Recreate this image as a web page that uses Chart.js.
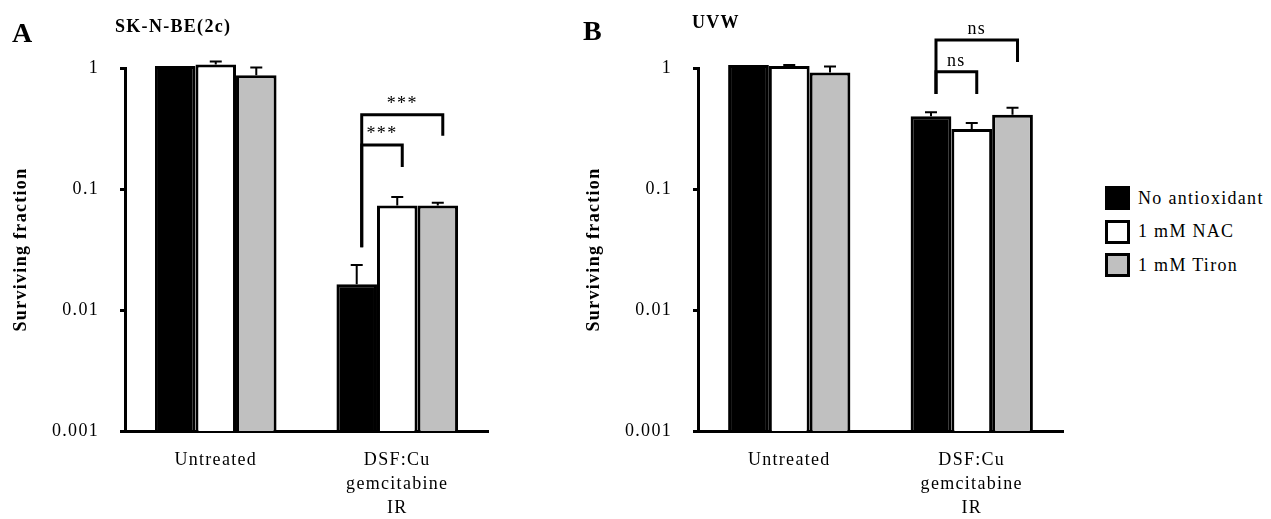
<!DOCTYPE html>
<html lang="en">
<head>
<meta charset="UTF-8">
<title>Surviving fraction</title>
<script src="https://cdn.jsdelivr.net/npm/chart.js"></script>
<style>
    body { margin: 0; background: #fff; font-family: "Liberation Serif", "Times New Roman", serif; color: #000; }
    #wrap { position: relative; width: 1271px; height: 519px; overflow: hidden; }
    canvas { position: absolute; top: 0; }
    .panel { position: absolute; font-size: 28px; line-height: 28px; font-weight: bold; }
    .cell { position: absolute; font-size: 18px; line-height: 18px; font-weight: bold; letter-spacing: 1.3px; }
    #legend { position: absolute; left: 1105px; top: 186px; font-size: 18px; letter-spacing: 1.3px; }
    .item { display: flex; align-items: center; height: 24px; margin-bottom: 9.5px; }
    .box { width: 19px; height: 18px; border: 3px solid #000; margin-right: 8px; }
</style>
</head>
<body>
<div id="wrap">
    <canvas id="chartA" width="500" height="519" style="left:0px"></canvas>
    <canvas id="chartB" width="500" height="519" style="left:573px"></canvas>
    <div class="panel" style="left:12px; top:19px">A</div>
    <div class="panel" style="left:583px; top:17px">B</div>
    <div class="cell" style="left:115px; top:17px">SK-N-BE(2c)</div>
    <div class="cell" style="left:692px; top:13px">UVW</div>
    <div id="legend"></div>
</div>

<script>
    const categories = ['Untreated', ['DSF:Cu', 'gemcitabine', 'IR']];
    const seriesNames = ['No antioxidant', '1 mM NAC', '1 mM Tiron'];
    const seriesColors = ['#000000', '#ffffff', '#c0c0c0'];
    const yTicks = [1, 0.1, 0.01, 0.001];

    // SK-N-BE(2c)
    const skNoAntiox = [1.04, 0.0163];
    const skNac = [1.07, 0.073];
    const skTiron = [0.87, 0.073];
    const skNoAntioxErr = [0, 0.0072];
    const skNacErr = [0.06, 0.013];
    const skTironErr = [0.14, 0.004];

    // UVW
    const uvwNoAntiox = [1.06, 0.40];
    const uvwNac = [1.04, 0.313];
    const uvwTiron = [0.92, 0.41];
    const uvwNoAntioxErr = [0, 0.03];
    const uvwNacErr = [0.02, 0.038];
    const uvwTironErr = [0.11, 0.06];

    // significance brackets over the second group (bar index = series), heights in y units
    const skBrackets = [
        { from: 0, to: 2, top: 0.41, leftEnd: 0.033, rightEnd: 0.275, label: '***' },
        { from: 0, to: 1, top: 0.231, leftEnd: 0.033, rightEnd: 0.152, label: '***' }
    ];
    const uvwBrackets = [
        { from: 0, to: 2, top: 1.70, leftEnd: 0.61, rightEnd: 1.12, label: 'ns' },
        { from: 0, to: 1, top: 0.93, leftEnd: 0.61, rightEnd: 0.61, label: 'ns' }
    ];

    const serif = 'Liberation Serif';

    // error bars, brackets and a bit of letter spacing like the original
    const extrasPlugin = {
        id: 'extras',
        beforeUpdate(chart) { chart.ctx.letterSpacing = '1.3px'; },
        beforeDraw(chart) { chart.ctx.letterSpacing = '1.3px'; },
        afterDatasetsDraw(chart, args, opts) {
            let ctx = chart.ctx;
            let yScale = chart.scales.y;
            ctx.save();
            ctx.strokeStyle = '#000';
            ctx.lineWidth = 2;
            opts.errors.forEach((errs, i) => {
                let meta = chart.getDatasetMeta(i);
                meta.data.forEach((bar, j) => {
                    if (!errs[j]) return;
                    let v = chart.data.datasets[i].data[j];
                    let yEnd = yScale.getPixelForValue(v + errs[j]);
                    ctx.beginPath();
                    ctx.moveTo(bar.x, bar.y);
                    ctx.lineTo(bar.x, yEnd);
                    ctx.moveTo(bar.x - 6, yEnd);
                    ctx.lineTo(bar.x + 6, yEnd);
                    ctx.stroke();
                });
            });

            ctx.lineWidth = 3;
            ctx.fillStyle = '#000';
            ctx.font = '18px "' + serif + '"';
            ctx.textAlign = 'center';
            ctx.textBaseline = 'alphabetic';
            opts.brackets.forEach(b => {
                let x1 = chart.getDatasetMeta(b.from).data[1].x + 5;
                let x2 = chart.getDatasetMeta(b.to).data[1].x + 5;
                let yTop = yScale.getPixelForValue(b.top);
                ctx.beginPath();
                ctx.moveTo(x1, yScale.getPixelForValue(b.leftEnd));
                ctx.lineTo(x1, yTop);
                ctx.lineTo(x2, yTop);
                ctx.lineTo(x2, yScale.getPixelForValue(b.rightEnd));
                ctx.stroke();
                ctx.fillText(b.label, (x1 + x2) / 2, yTop - 6);
            });
            ctx.restore();
        }
    };

    function makeChart(id, values, errors, brackets, padRight) {
        return new Chart(document.getElementById(id), {
            type: 'bar',
            data: {
                labels: categories,
                datasets: values.map((vals, i) => ({
                    label: seriesNames[i],
                    data: vals,
                    backgroundColor: seriesColors[i],
                    borderColor: '#000',
                    borderWidth: 3,
                    borderSkipped: 'bottom',
                    barPercentage: 1,
                    categoryPercentage: 0.67,
                    clip: false
                }))
            },
            options: {
                responsive: false,
                animation: false,
                devicePixelRatio: 1,
                layout: { padding: { top: 68, right: padRight, bottom: 0, left: 0 } },
                plugins: {
                    legend: { display: false },
                    tooltip: { enabled: false },
                    extras: { errors: errors, brackets: brackets }
                },
                scales: {
                    x: {
                        grid: { display: false, drawTicks: false },
                        border: { color: '#000', width: 3 },
                        ticks: {
                            color: '#000',
                            font: { family: serif, size: 18, lineHeight: '24px' },
                            padding: 17,
                            maxRotation: 0,
                            autoSkip: false
                        },
                        afterFit(scale) { scale.height = 88; }
                    },
                    y: {
                        type: 'logarithmic',
                        min: 0.001,
                        max: 1,
                        grid: { drawOnChartArea: false, color: '#000', lineWidth: 3, tickLength: 5 },
                        border: { color: '#000', width: 3 },
                        ticks: {
                            color: '#000',
                            font: { family: serif, size: 18 },
                            padding: 21,
                            callback: v => String(v)
                        },
                        afterBuildTicks(scale) { scale.ticks = yTicks.map(v => ({ value: v })); },
                        afterFit(scale) { scale.width = 125; },
                        title: {
                            display: true,
                            text: 'Surviving fraction',
                            color: '#000',
                            font: { family: serif, size: 18, weight: 'bold' },
                            padding: { top: 11, bottom: 0 }
                        }
                    }
                }
            },
            plugins: [extrasPlugin]
        });
    }

    makeChart('chartA', [skNoAntiox, skNac, skTiron], [skNoAntioxErr, skNacErr, skTironErr], skBrackets, 12);
    makeChart('chartB', [uvwNoAntiox, uvwNac, uvwTiron], [uvwNoAntioxErr, uvwNacErr, uvwTironErr], uvwBrackets, 10);

    // legend
    let legend = document.getElementById('legend');
    seriesNames.forEach((name, i) => {
        let item = document.createElement('div');
        item.className = 'item';
        let box = document.createElement('div');
        box.className = 'box';
        box.style.background = seriesColors[i];
        item.appendChild(box);
        item.appendChild(document.createTextNode(name));
        legend.appendChild(item);
    });
</script>
</body>
</html>
